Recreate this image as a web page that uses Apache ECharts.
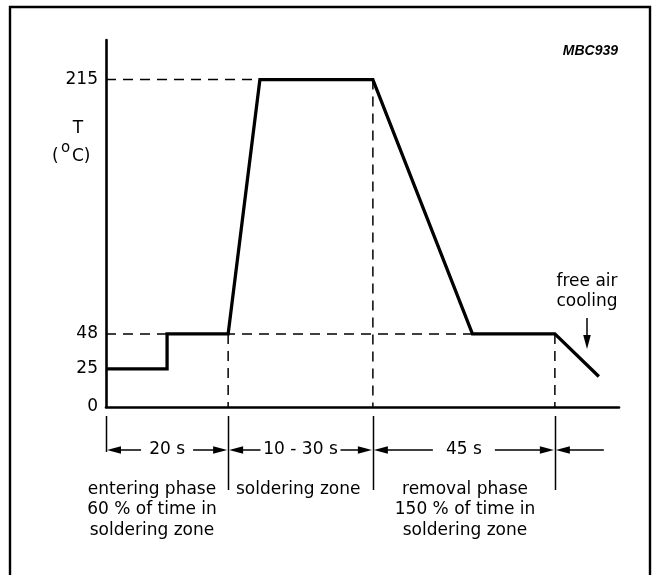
<!DOCTYPE html>
<html><head><meta charset="utf-8">
<script src="https://cdn.jsdelivr.net/npm/echarts@6/dist/echarts.min.js"></script>
<style>html,body{margin:0;padding:0;background:#fff}#c{width:656px;height:575px}</style>
</head><body><div id="c"></div>
<script>
// ---- data (schematic reflow-soldering profile) ----
const profileTime = [0, 10, 10, 20, 25.2, 43.7, 60, 73.5, 80.7];
const profileTemp = [25, 25, 48, 48, 215, 215, 48, 48, 20];
const tempTicks = [0, 25, 48, 215];
const zoneBounds = [0, 20, 43.7, 73.5];
const zoneLabels = ['20 s', '10 - 30 s', '45 s'];
const phaseTexts = ['entering phase\n60 % of time in\nsoldering zone', 'soldering zone', 'removal phase\n150 % of time in\nsoldering zone'];
const coolingText = 'free air\ncooling';
const figureCode = 'MBC939';
const axisName = 'T';
const axisUnit = ['(', 'o', 'C)'];

// ---- layout ----
const FF = '"DejaVu Sans", sans-serif';
const F17 = '17px ' + FF;
const zoneTextGap = [26, 40, 31];

const chart = echarts.init(document.getElementById('c'), null, {renderer: 'canvas'});
const profile = profileTime.map((t, i) => [t, profileTemp[i]]);
const rampStart = profile[3], peakStart = profile[4], peakEnd = profile[5], coolStart = profile[7];
const guides = [
  [[0, peakStart[1]], peakStart],
  [[0, rampStart[1]], coolStart],
  [rampStart, [rampStart[0], 0]],
  [peakEnd, [peakEnd[0], 0]],
  [coolStart, [coolStart[0], 0]]
];

function arrowEls(x1, y1, x2, y2, headAtEnd) {
  const tip = headAtEnd ? [x2, y2] : [x1, y1];
  const other = headAtEnd ? [x1, y1] : [x2, y2];
  const dx = other[0] - tip[0], dy = other[1] - tip[1];
  const len = Math.sqrt(dx * dx + dy * dy) || 1;
  const ux = dx / len, uy = dy / len;
  const L = 14, W = 3.8;
  const bx = tip[0] + ux * L, by = tip[1] + uy * L;
  return [
    {type: 'line', shape: {x1: other[0], y1: other[1], x2: tip[0] + ux * 4, y2: tip[1] + uy * 4}, style: {stroke: '#000', lineWidth: 1.5}},
    {type: 'polygon', shape: {points: [tip, [bx - uy * W, by + ux * W], [bx + uy * W, by - ux * W]]}, style: {fill: '#000'}}
  ];
}

const guideSeries = guides.map(g => ({
  type: 'line', xAxisIndex: 0, yAxisIndex: 0, data: g, symbol: 'none', silent: true, z: 2,
  lineStyle: {color: '#000', width: 1.5, type: [10, 7]}
}));

const option = {
  animation: false,
  backgroundColor: '#fff',
  grid: [
    {left: 106, right: 37, top: 40, height: 367},
    {left: 106, right: 37, top: 407, height: 130}
  ],
  xAxis: [
    {type: 'value', gridIndex: 0, min: 0, max: 84,
     axisLine: {show: true, onZero: false, lineStyle: {color: '#000', width: 2.6}},
     axisTick: {show: false}, axisLabel: {show: false}, splitLine: {show: false}},
    {type: 'value', gridIndex: 1, min: 0, max: 84, show: false}
  ],
  yAxis: [
    {type: 'value', gridIndex: 0, min: 0, max: 241,
     axisLine: {show: true, lineStyle: {color: '#000', width: 2.6}},
     axisTick: {show: false}, splitLine: {show: false},
     axisLabel: {customValues: tempTicks, color: '#000', fontFamily: FF, fontSize: 17, margin: 8}},
    {type: 'value', gridIndex: 1, min: -130, max: 0, show: false}
  ],
  series: guideSeries.concat([
    {type: 'line', xAxisIndex: 0, yAxisIndex: 0, data: profile, symbol: 'none', silent: true, z: 3,
     lineStyle: {color: '#000', width: 3.3, cap: 'butt', join: 'miter'}},
    {type: 'custom', xAxisIndex: 1, yAxisIndex: 1, data: [[0, 0]], silent: true, z: 4,
     renderItem: function (params, api) {
       const X = v => api.coord([v, 0])[0];
       const Y = v => api.coord([0, v])[1];
       const ch = [];
       zoneBounds.forEach((b, i) => {
         const x = Math.round(X(b)) + 0.5;
         ch.push({type: 'line', shape: {x1: x, y1: Y(-9), x2: x, y2: i === 0 ? Y(-45) : Y(-83)}, style: {stroke: '#000', lineWidth: 1.5}});
       });
       const ay = Y(-43);
       zoneLabels.forEach((lab, i) => {
         const l = X(zoneBounds[i]) + 1, r = X(zoneBounds[i + 1]) - 1;
         const c = (l + r) / 2, g = zoneTextGap[i];
         ch.push.apply(ch, arrowEls(l, ay, c - g, ay, false));
         ch.push.apply(ch, arrowEls(c + g, ay, r, ay, true));
         ch.push({type: 'text', style: {text: lab, x: c, y: ay, font: F17, fill: '#000', textAlign: 'center', textVerticalAlign: 'middle'}});
       });
       const cs = X(zoneBounds[3]) + 1;
       ch.push.apply(ch, arrowEls(cs, ay, cs + 48, ay, false));
       return {type: 'group', children: ch};
     }}
  ]),
  graphic: [
    {type: 'rect', shape: {x: 10, y: 7, width: 640, height: 620}, style: {fill: 'none', stroke: '#000', lineWidth: 2.4}, silent: true},
    {type: 'text', style: {text: figureCode, x: 618, y: 51, font: 'italic bold 14px "Liberation Sans", sans-serif', fill: '#000', textAlign: 'right', textVerticalAlign: 'middle'}},
    {type: 'text', style: {text: axisName, x: 78, y: 129, font: F17, fill: '#000', textAlign: 'center', textVerticalAlign: 'middle'}},
    {type: 'text', style: {text: axisUnit[0], x: 52, y: 157, font: F17, fill: '#000', textAlign: 'left', textVerticalAlign: 'middle'}},
    {type: 'text', style: {text: axisUnit[1], x: 61, y: 148, font: '15px ' + FF, fill: '#000', textAlign: 'left', textVerticalAlign: 'middle'}},
    {type: 'text', style: {text: axisUnit[2], x: 72, y: 157, font: F17, fill: '#000', textAlign: 'left', textVerticalAlign: 'middle'}},
    {type: 'text', style: {text: phaseTexts[0], x: 152, y: 479, font: F17, lineHeight: 20.5, fill: '#000', textAlign: 'center', textVerticalAlign: 'top'}},
    {type: 'text', style: {text: phaseTexts[1], x: 236, y: 479, font: F17, lineHeight: 20.5, fill: '#000', textAlign: 'left', textVerticalAlign: 'top'}},
    {type: 'text', style: {text: phaseTexts[2], x: 465, y: 479, font: F17, lineHeight: 20.5, fill: '#000', textAlign: 'center', textVerticalAlign: 'top'}},
    {type: 'text', style: {text: coolingText, x: 587, y: 272, font: F17, lineHeight: 20, fill: '#000', textAlign: 'center', textVerticalAlign: 'top'}},
    {type: 'line', shape: {x1: 587, y1: 318, x2: 587, y2: 340}, style: {stroke: '#000', lineWidth: 1.5}},
    {type: 'polygon', shape: {points: [[587, 349], [583.2, 335], [590.8, 335]]}, style: {fill: '#000'}}
  ]
};
chart.setOption(option);
</script></body></html>
